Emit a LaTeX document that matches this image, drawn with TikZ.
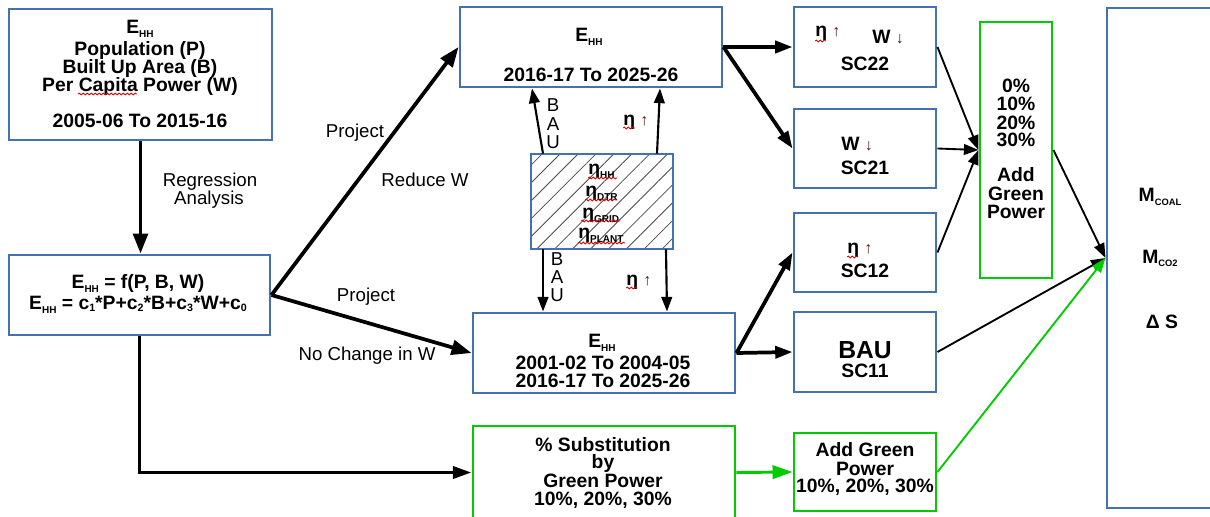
\documentclass[tikz,border=0pt]{standalone}
\usepackage{fontspec}
\setmainfont{Liberation Sans}
\usetikzlibrary{arrows.meta,fit,patterns.meta,decorations.pathmorphing}
\definecolor{boxblue}{RGB}{68,114,176}
\definecolor{boxgreen}{RGB}{0,204,0}
\definecolor{arrowred}{RGB}{80,25,25}
% lowered small subscripts
\newcommand\lowsub[1]{\raisebox{-3pt}{\fontsize{7.5}{7.5}\selectfont #1}}
\newcommand\csub[1]{\raisebox{-2pt}{\fontsize{8}{8}\selectfont #1}}
\newcommand\msub[1]{\raisebox{-2.5pt}{\fontsize{7}{7}\selectfont #1}}
\newcommand\uparr{{\mdseries\color{arrowred}\fontsize{12}{12}\selectfont ↑}}
\newcommand\downarr{{\mdseries\color{arrowred}\fontsize{12}{12}\selectfont ↓}}
\begin{document}
\begin{tikzpicture}[x=0.75pt,y=-0.75pt,
  bx/.style={draw=boxblue, line width=2.2pt, inner sep=0pt},
  gbx/.style={draw=boxgreen, line width=2.2pt, inner sep=0pt},
  tx/.style={font={\bfseries\fontsize{14.5}{14.5}\selectfont}, inner sep=0pt, anchor=base},
  lbl/.style={font={\fontsize{14}{14}\selectfont}, inner sep=0pt, anchor=base},
  fat/.style={line width=2.8pt, -{Triangle[length=15pt,width=11pt]}},
  mid/.style={line width=1.6pt, -{Triangle[length=11pt,width=8pt]}},
  slim/.style={line width=1.4pt, -{Triangle[length=11pt,width=8pt]}},
  spell/.style={draw=red!85!black, line width=0.6pt, decorate,
    decoration={snake,amplitude=0.7pt,segment length=3pt}}]

\fill[white] (0,0) rectangle (1210,517);
\useasboundingbox (0,0) rectangle (1210,517);

% ---- boxes ----
\node[bx, fit={(9,9)(272,140)}] (A) {};
\node[bx, fit={(9,255)(270,335)}] (B) {};
\node[bx, fit={(460,7)(722,87)}] (C) {};
\node[bx, fit={(531,154)(673,249)},
      pattern={Lines[angle=45,distance=9.5pt,line width=0.6pt]},
      pattern color=black!70] (D) {};
\node[bx, fit={(473,313)(735,393)}] (E) {};
\node[gbx, fit={(473,426)(735,519)}] (Sub) {};
\node[bx, fit={(794,7)(936,87)}] (S22) {};
\node[bx, fit={(794,109)(936,188)}] (S21) {};
\node[bx, fit={(794,213)(936,292)}] (S12) {};
\node[bx, fit={(794,312)(936,392)}] (S11) {};
\node[gbx, fit={(794,433)(936,511)}] (AG) {};
\node[gbx, fit={(980,22)(1052,278)}] (G) {};
\node[bx, fit={(1107,8)(1216,508)}] (R) {};

% ---- box texts ----
\node[tx] (a1) at (140,34) {E\lowsub{HH}};
\node[tx] (a2) at (140,55.7) {Population (P)};
\node[tx] (a3) at (140,74) {Built Up Area (B)};
\node[tx] (a4) at (140,92) {Per Capita Power (W)};
\node[tx] (a5) at (140,127.7) {2005-06 To 2015-16};

\node[tx] (b1) at (138,288) {E\lowsub{HH} = f(P, B, W)};
\node[tx] (b2) at (138,309) {E\lowsub{HH} = c\csub{1}*P+c\csub{2}*B+c\csub{3}*W+c\csub{0}};

\node[tx] (c1) at (589,42) {E\lowsub{HH}};
\node[tx] (c2) at (591,82) {2016-17 To 2025-26};

\node[tx] (e1) at (602,347) {E\lowsub{HH}};
\node[tx] (e2) at (603,369.5) {2001-02 To 2004-05};
\node[tx] (e3) at (603,387.5) {2016-17 To 2025-26};

\node[tx] (s1) at (603,451) {\% Substitution};
\node[tx] (s2) at (603,468) {by};
\node[tx] (s3) at (603,487) {Green Power};
\node[tx] (s4) at (603,505) {10\%, 20\%, 30\%};

\node[tx] (g1) at (865,456.7) {Add Green};
\node[tx] (g2) at (865,475) {Power};
\node[tx] (g3) at (865,492.7) {10\%, 20\%, 30\%};

\node[tx, anchor=base west] (k1) at (815,37) {η \uparr};
\node[tx, anchor=base west] (k2) at (872,44) {W \downarr};
\node[tx] (k3) at (865,71) {SC22};
\node[tx, anchor=base west] (m1) at (841,150) {W \downarr};
\node[tx] (m2) at (865,174.3) {SC21};
\node[tx, anchor=base west] (n1) at (847,253) {η \uparr};
\node[tx] (n2) at (865,277) {SC12};
\node[tx, font={\bfseries\fontsize{18.5}{18.5}\selectfont}] (p1) at (865,358.3) {BAU};
\node[tx] (p2) at (865,377) {SC11};

\node[tx] (q1) at (1016,92.7) {0\%};
\node[tx] (q2) at (1016,110.7) {10\%};
\node[tx] (q3) at (1016,129) {20\%};
\node[tx] (q4) at (1016,146.7) {30\%};
\node[tx] (q5) at (1016,181.7) {Add};
\node[tx] (q6) at (1016,200) {Green};
\node[tx] (q7) at (1016,218.3) {Power};

\node[tx] (r1) at (1160,201.7) {M\msub{COAL}};
\node[tx] (r2) at (1160,263.3) {M\msub{CO2}};
\node[tx] (r3) at (1162,328) {Δ S};

\node[tx, anchor=base west] (h1) at (588,174) {η\lowsub{HH}};
\node[tx, anchor=base west] (h2) at (585,196.7) {η\lowsub{DTR}};
\node[tx, anchor=base west] (h3) at (582,218) {η\lowsub{GRID}};
\node[tx, anchor=base west] (h4) at (578,238) {η\lowsub{PLANT}};

% ---- connector labels ----
\node[lbl] (l1) at (210,186.5) {Regression};
\node[lbl] (l2) at (209,204.5) {Analysis};
\node[lbl] (l3) at (355,137.3) {Project};
\node[lbl] (l4) at (425,186.7) {Reduce W};
\node[lbl] (l5) at (366,301.7) {Project};
\node[lbl] (l6) at (367,360) {No Change in W};
\node[lbl] (u1) at (553,111.7) {B};
\node[lbl] (u2) at (553,130) {A};
\node[lbl] (u3) at (553,148) {U};
\node[lbl] (v1) at (557,265) {B};
\node[lbl] (v2) at (557,283) {A};
\node[lbl] (v3) at (557,301) {U};
\node[tx, anchor=base west] (w1) at (623,125) {η \uparr};
\node[tx, anchor=base west] (w2) at (626,285) {η \uparr};

% ---- spell-check underlines ----
\draw[spell] (78,94) -- (137,94);
\draw[spell] (623,128) -- (635,128);
\draw[spell] (626,288) -- (637,288);
\draw[spell] (815,41) -- (826,41);
\draw[spell] (847,257) -- (858,257);
\draw[spell] (588,178) -- (617,178);
\draw[spell] (585,200) -- (617,200);
\draw[spell] (581,221) -- (620,221);
\draw[spell] (578,243) -- (625,243);

% ---- connectors ----
\draw[fat] (A.south) -- (A.south |- B.north);
\draw[fat] (B.east) -- (C.west);
\draw[fat] (B.east) -- (E.west);
\draw[fat, -{Triangle[length=14pt,width=9pt]}] (B.south) |- (Sub.west);

\draw[mid] (543,0 |- D.north) -- (532,0 |- C.south);
\draw[mid] (657,0 |- D.north) -- (660,0 |- C.south);
\draw[mid] (543,0 |- D.south) -- (543,0 |- E.north);
\draw[mid] (666,0 |- D.south) -- (667,0 |- E.north);

\draw[fat, -{Triangle[length=13pt,width=9pt]}] (C.east) -- (S22.west);
\draw[fat, -{Triangle[length=13pt,width=9pt]}] (C.east) -- (S21.west);
\draw[fat, -{Triangle[length=13pt,width=9pt]}] (E.east) -- (S12.west);
\draw[fat, -{Triangle[length=13pt,width=9pt]}] (E.east) -- (S11.west);

\draw[slim] (S22.east) -- (G.west);
\draw[slim] (S21.east) -- (G.west);
\draw[slim] (S12.east) -- (G.west);
\draw[slim] (G.east) -- (R.west);
\draw[slim] (S11.east) -- (R.west);

\draw[line width=2.2pt, boxgreen, -{Triangle[length=15pt,width=10pt]}] (Sub.east) -- (AG.west);
\draw[slim, boxgreen] (AG.east) -- (R.west);
\end{tikzpicture}
\end{document}
